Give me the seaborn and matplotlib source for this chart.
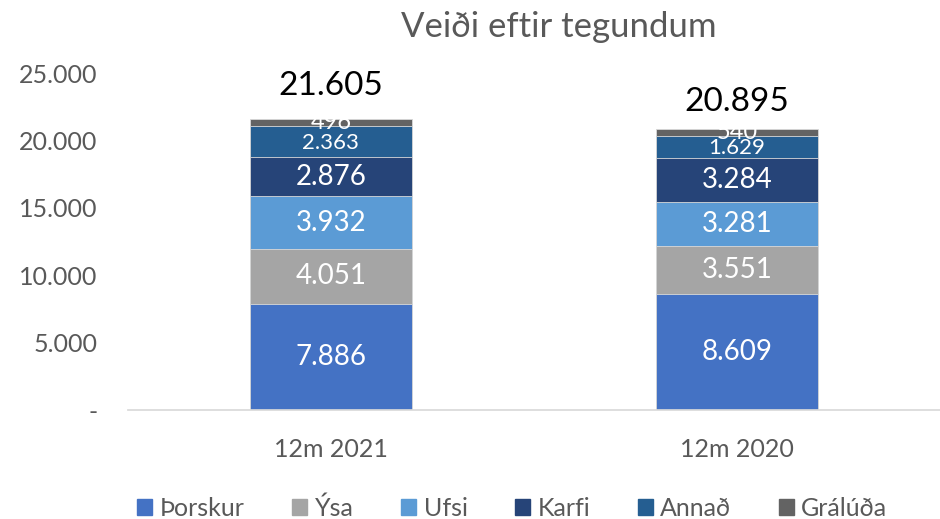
import pandas as pd
import numpy as np
import matplotlib.pyplot as plt
import seaborn as sns
from matplotlib.patches import Patch

periods = ["12m 2021", "12m 2020"]
species = ["Þorskur", "Ýsa", "Ufsi", "Karfi", "Annað", "Grálúða"]
thorskur = [7886, 8609]
ysa = [4051, 3551]
ufsi = [3932, 3281]
karfi = [2876, 3284]
annad = [2363, 1629]
gralida = [496, 540]
totals = [21605, 20895]
colors = ["#4472C4", "#A5A5A5", "#5B9BD5", "#264478", "#255E91", "#636363"]

sns.set_theme(style="white")
plt.rcParams['font.family'] = ['Lato', 'DejaVu Sans']

values = np.array([thorskur, ysa, ufsi, karfi, annad, gralida])
tops = values.cumsum(axis=0)
bottoms = tops - values

fig = plt.figure(figsize=(9.4, 5.19), dpi=100)
ax = fig.add_axes([0.136, 0.21, 0.864, 0.649])

# draw cumulative bars from the top layer down so they stack
for i in range(len(species) - 1, -1, -1):
    df = pd.DataFrame({"period": periods, "value": tops[i]})
    sns.barplot(data=df, x="period", y="value", order=periods, color=colors[i],
                saturation=1, width=0.4, edgecolor="#d9d9d9", linewidth=0.6, ax=ax)

label_sizes = [20, 20, 20, 20, 16, 17]
label_shift = [0, 0, 0, 0, -1, 0]  # points
for i in range(len(species)):
    for j in range(len(periods)):
        mid = bottoms[i][j] + values[i][j] / 2
        ax.annotate(f"{values[i][j]:,}".replace(",", "."), (j, mid),
                    xytext=(0, label_shift[i]), textcoords="offset points",
                    ha="center", va="center", color="white", fontsize=label_sizes[i])

total_offsets = [13, 8]
for j, t in enumerate(totals):
    ax.annotate(f"{t:,}".replace(",", "."), (j, tops[-1][j]), xytext=(0, total_offsets[j]),
                textcoords="offset points", ha="center", va="bottom",
                fontsize=24, color="black")

ax.set_ylim(0, 25000)
ax.set_xlim(-0.5, 1.5)
ax.set_yticks(range(0, 25001, 5000))
ax.set_yticklabels(["-" if v == 0 else f"{v:,}".replace(",", ".") for v in range(0, 25001, 5000)])
ax.tick_params(axis="y", labelsize=18, colors="#595959", length=0, pad=22)
ax.tick_params(axis="x", labelsize=18, colors="#595959", length=0, pad=20)
ax.set_xlabel("")
ax.set_ylabel("")
sns.despine(ax=ax, left=True, top=True, right=True)
ax.spines["bottom"].set_color("#d9d9d9")

fig.suptitle("Veiði eftir tegundum", x=0.594, y=0.978, fontsize=25, color="#595959")

handles = [Patch(facecolor=c, edgecolor=c) for c in colors]
fig.legend(handles, species, loc="lower center", ncol=6, frameon=False, fontsize=18,
           bbox_to_anchor=(0.545, -0.045), handlelength=0.6, handleheight=0.6,
           columnspacing=1.9, handletextpad=0.3, labelcolor="#595959")

plt.savefig("out.png", dpi=100)
